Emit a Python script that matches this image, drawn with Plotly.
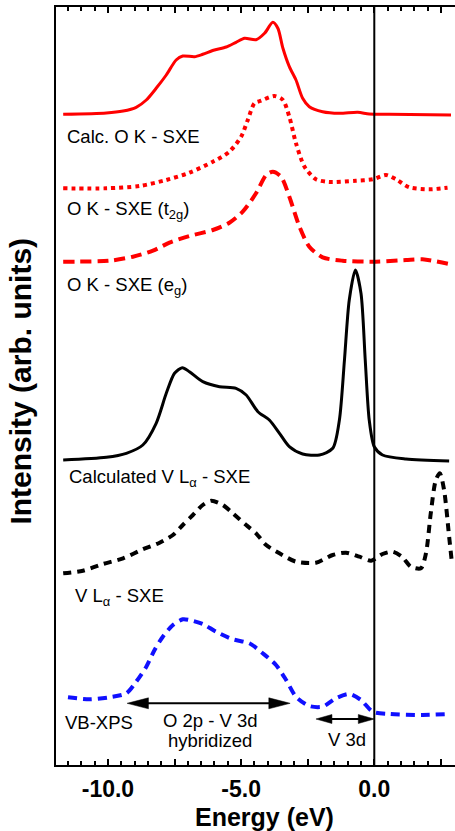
import plotly.graph_objects as go

# ---------------- data (energy in eV, intensity in arb. units) ----------------
calc_ok_E = [-11.68, -10.06, -9.43, -8.94, -8.56, -8.19, -7.81, -7.44, -7.19, -6.75, -6.44, -6.0,
             -5.56, -5.19, -4.87, -4.44, -4.12, -3.81, -3.62, -3.43, -3.19, -2.94, -2.69, -2.44,
             -1.94, -1.31, -0.62, -0.19, 0.56, 2.88]
calc_ok_I = [0.7, 2, 4, 7.7, 15, 26.7, 40, 55, 59, 58.3, 60.7, 65, 68, 72.7, 76.7, 75.3, 81.7,
             92.7, 86.7, 66.7, 48.3, 35, 16.7, 8.3, 3.3, 1.7, 2.7, 1, 0.7, 0]

t2g_E = [-11.68, -10.06, -8.81, -7.81, -6.94, -6.06, -5.44, -5.0, -4.75, -4.5, -4.25, -3.75,
         -3.43, -3.19, -2.94, -2.62, -2.19, -1.69, -0.69, -0.06, 0.44, 0.81, 1.31, 2.06, 2.75]
t2g_I = [0.7, 0.7, 3, 9, 16.3, 27.3, 37.3, 52.3, 69, 85.7, 88.3, 93, 89, 72.3, 45.7, 22.3, 9.7,
         7, 8.3, 9.7, 14, 9.7, 1.7, -0.3, 1.3]

eg_E = [-11.68, -9.94, -9.06, -8.31, -7.69, -6.94, -6.06, -5.44, -4.94, -4.44, -4.06, -3.81,
        -3.5, -3.19, -2.81, -2.44, -1.94, -1.19, 0.06, 1.19, 1.81, 2.81]
eg_I = [0.3, 1.3, 5.3, 11.3, 19.3, 26, 32, 39.3, 50.3, 68.7, 87, 90.3, 85.3, 65.3, 35.3, 15.3,
        4.7, 1.3, 0.3, 2, 2.7, -2]

calc_vl_E = [-11.68, -10.06, -9.31, -8.69, -8.19, -7.81, -7.5, -7.21, -6.94, -6.44, -5.81, -5.19,
             -4.81, -4.37, -3.94, -3.56, -3.19, -2.69, -2.06, -1.56, -1.31, -1.12, -0.94, -0.71,
             -0.5, -0.34, -0.19, 0.0, 0.31, 1.19, 2.81]
calc_vl_I = [1, 3.7, 7.7, 16, 37.7, 67.7, 87.7, 93.3, 89.3, 79.3, 74.3, 72.7, 66, 49.3, 41, 27.7,
             14.3, 7, 6, 12.7, 41, 101, 161, 191, 167.7, 101, 41, 14.3, 6, 2, 0]

vl_E = [-11.68, -10.94, -10.19, -9.43, -8.69, -8.06, -7.56, -7.19, -6.81, -6.44, -6.12, -5.69,
        -5.31, -4.81, -4.44, -4.06, -3.56, -2.94, -2.19, -1.56, -1.06, -0.56, -0.12, 0.31, 0.69,
        1.06, 1.37, 1.75, 1.94, 2.12, 2.31, 2.46, 2.62, 2.81, 2.91]
vl_I = [1.7, 4.3, 11, 16.7, 25.7, 32.3, 40, 50, 60, 70, 74.3, 70, 61.7, 50, 41.7, 30, 21.7, 13.3,
        12.3, 20, 22.3, 18.3, 14.3, 21, 23.3, 17.7, 8.3, 6.7, 21.7, 61.7, 95, 101.7, 85, 38.3, 13.3]

xps_E = [-11.5, -10.69, -9.94, -9.31, -8.94, -8.56, -8.25, -7.94, -7.56, -7.19, -6.94, -6.44,
         -5.94, -5.31, -4.69, -4.19, -3.69, -3.31, -2.94, -2.44, -1.94, -1.44, -0.94, -0.5,
         -0.06, 0.56, 1.81, 2.75]
xps_I = [17.7, 15.7, 17.7, 21.7, 33.3, 48.3, 65, 78.3, 90, 95.7, 95, 91, 83.3, 75.7, 71.7, 61.7,
         50, 35, 18.3, 9, 8.3, 16.7, 21, 15, 3.3, 1, 0, 1]

# vertical offsets of the stacked spectra
offsets = [650, 576, 503, 304, 190, 50]

curve_labels = ["Calc. O K - SXE", "O K - SXE (t<sub>2g</sub>)", "O K - SXE (e<sub>g</sub>)",
                "Calculated V L<sub>α</sub> - SXE", "V L<sub>α</sub> - SXE", "VB-XPS"]

tick_vals = [-10, -7.5, -5, -2.5, 0, 2.5]
tick_text = ["-10.0", "", "-5.0", "", "0.0", ""]

# ---------------- styles ----------------
FONT = "Liberation Sans, Arial, Helvetica, sans-serif"
RED = "#ff0000"
BLUE = "#1010ff"
styles = [
    dict(color=RED, width=3, dash="solid"),
    dict(color=RED, width=4, dash="4px,4px"),
    dict(color=RED, width=4, dash="11px,6px"),
    dict(color="black", width=3, dash="solid"),
    dict(color="black", width=4, dash="8px,6px"),
    dict(color=BLUE, width=4, dash="9px,6px"),
]

series = [(calc_ok_E, calc_ok_I), (t2g_E, t2g_I), (eg_E, eg_I),
          (calc_vl_E, calc_vl_I), (vl_E, vl_I), (xps_E, xps_I)]

fig = go.Figure()
for (E, I), off, st in zip(series, offsets, styles):
    fig.add_trace(go.Scatter(
        x=E, y=[v + off for v in I], mode="lines",
        line=dict(color=st["color"], width=st["width"], dash=st["dash"],
                  shape="spline", smoothing=0.75),
        showlegend=False, hoverinfo="skip"))

# curve labels (x in eV, y in arb. units)
label_pos = [(-11.63, 629), (-11.6, 555), (-11.6, 479), (-11.53, 287), (-11.3, 168), (-11.67, 43)]
annotations = []
for txt, (lx, ly) in zip(curve_labels, label_pos):
    annotations.append(dict(x=lx, y=ly, xref="x", yref="y", text=txt, showarrow=False,
                            xanchor="left", yanchor="middle",
                            font=dict(family=FONT, size=18.5, color="black")))

for txt, (lx, ly) in [("O 2p - V 3d", (-6.16, 45)), ("hybridized", (-6.16, 25)), ("V 3d", (-1.03, 26))]:
    annotations.append(dict(x=lx, y=ly, xref="x", yref="y", text=txt, showarrow=False,
                            xanchor="center", yanchor="middle",
                            font=dict(family=FONT, size=18.5, color="black")))

# axis titles
annotations.append(dict(x=-4.14, y=-0.068, xref="x", yref="paper", text="Energy (eV)",
                        showarrow=False, xanchor="center", yanchor="middle",
                        font=dict(family=FONT, size=25, color="black", weight="bold")))
annotations.append(dict(x=-0.088, y=0.507, xref="paper", yref="paper", text="Intensity (arb. units)",
                        showarrow=False, xanchor="center", yanchor="middle", textangle=-90,
                        font=dict(family=FONT, size=30, color="black", weight="bold")))

# double-headed arrows: (x_start, x_end, y, head length eV, head half-height)
arrows = [(-9.28, -3.16, 61.7, 0.8, 5.5), (-2.19, 0.0, 46, 0.6, 4.5)]
shapes = []
for x0, x1, yy, hl, hh in arrows:
    shapes.append(dict(type="line", x0=x0 + hl * 0.5, x1=x1 - hl * 0.5, y0=yy, y1=yy,
                       xref="x", yref="y", line=dict(color="black", width=2)))
    shapes.append(dict(type="path", xref="x", yref="y",
                       path=f"M{x0},{yy} L{x0 + hl},{yy + hh} L{x0 + hl},{yy - hh} Z",
                       fillcolor="black", line=dict(color="black", width=0.5)))
    shapes.append(dict(type="path", xref="x", yref="y",
                       path=f"M{x1},{yy} L{x1 - hl},{yy + hh} L{x1 - hl},{yy - hh} Z",
                       fillcolor="black", line=dict(color="black", width=0.5)))

# Fermi level line
shapes.append(dict(type="line", x0=0, x1=0, y0=0, y1=1, xref="x", yref="paper",
                   line=dict(color="black", width=2)))

fig.update_layout(
    width=455, height=831,
    margin=dict(l=56, r=0, t=7, b=66),
    paper_bgcolor="white", plot_bgcolor="white",
    annotations=annotations, shapes=shapes,
    xaxis=dict(range=[-11.95, 3.03], showline=True, linewidth=2, linecolor="black",
               mirror="allticks", ticks="inside", ticklen=6, tickwidth=1.5, tickcolor="black",
               tickmode="array", tickvals=tick_vals, ticktext=tick_text,
               tickfont=dict(family=FONT, size=23, color="black", weight="bold"),
               ticklabelstandoff=2,
               minor=dict(tickmode="linear", tick0=0, dtick=0.5, ticks="inside", ticklen=4,
                          tickwidth=1.5, tickcolor="black", showgrid=False),
               showgrid=False, zeroline=False),
    yaxis=dict(range=[0, 758], showline=True, linewidth=2, linecolor="black", mirror=False,
               ticks="", showticklabels=False, showgrid=False, zeroline=False),
)

fig.write_html("out.html")
